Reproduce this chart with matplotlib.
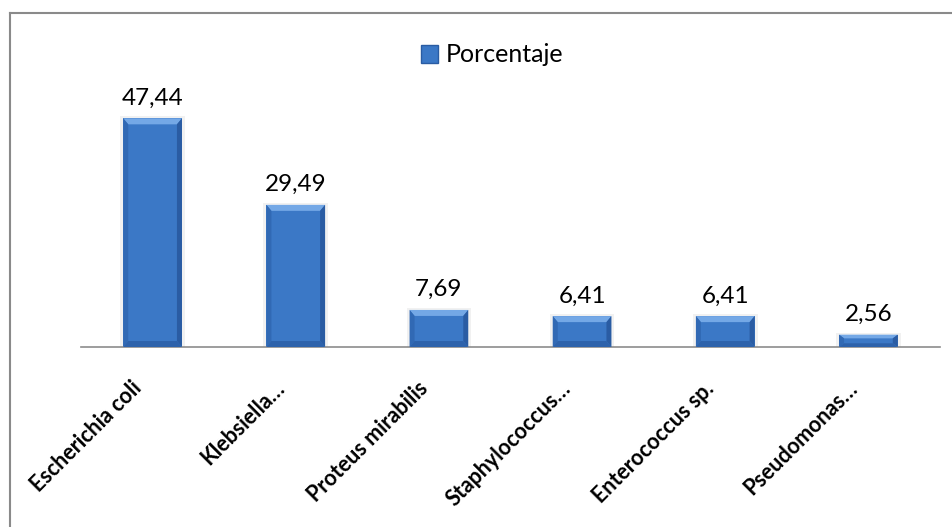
import numpy as np
import matplotlib.pyplot as plt
import matplotlib.transforms as mtransforms
from matplotlib.patches import Polygon, Rectangle
from matplotlib.lines import Line2D

plt.rcParams['font.family'] = ['Lato', 'DejaVu Sans']

categories = ['Escherichia coli', 'Klebsiella…', 'Proteus mirabilis',
              'Staphylococcus…', 'Enterococcus sp.', 'Pseudomonas…']
porcentaje = [47.44, 29.49, 7.69, 6.41, 6.41, 2.56]
labels = ['47,44', '29,49', '7,69', '6,41', '6,41', '2,56']

fig = plt.figure(figsize=(9.52, 5.27), dpi=100)
ax = fig.add_axes([81 / 952, 180 / 527, 859 / 952, 241 / 527])

x = np.arange(len(categories))
bars = ax.bar(x, porcentaje, width=0.41, color='#3b78c6', edgecolor='none', zorder=2)

ax.set_xlim(-0.5, len(categories) - 0.5)
ax.set_ylim(0, 50)

# beveled look: soft shadow, light top edge, darker sides
px = (ax.get_xlim()[1] - ax.get_xlim()[0]) / 859
py = 50 / 241
for b in bars:
    x0, y0 = b.get_x(), b.get_y()
    w, h = b.get_width(), b.get_height()
    bev_x, bev_y = 5 * px, min(6 * py, h * 0.3)
    ax.add_patch(Rectangle((x0 - 3 * px, y0), w + 6 * px, h + 2 * py,
                           color='#d8d8d8', alpha=0.35, lw=0, zorder=1))
    ax.add_patch(Polygon([(x0, y0 + h), (x0 + w, y0 + h), (x0 + w - bev_x, y0 + h - bev_y),
                          (x0 + bev_x, y0 + h - bev_y)], color='#74a8e6', lw=0, zorder=3))
    ax.add_patch(Polygon([(x0, y0), (x0, y0 + h), (x0 + bev_x, y0 + h - bev_y),
                          (x0 + bev_x, y0 + bev_y)], color='#3169b4', lw=0, zorder=3))
    ax.add_patch(Polygon([(x0 + w, y0), (x0 + w, y0 + h), (x0 + w - bev_x, y0 + h - bev_y),
                          (x0 + w - bev_x, y0 + bev_y)], color='#2a5ca3', lw=0, zorder=3))
    ax.add_patch(Polygon([(x0, y0), (x0 + w, y0), (x0 + w - bev_x, y0 + bev_y),
                          (x0 + bev_x, y0 + bev_y)], color='#2d62ab', lw=0, zorder=3))

for xi, v, lab in zip(x, porcentaje, labels):
    ax.annotate(lab, (xi, v), xytext=(0, 7), textcoords='offset points',
                ha='center', va='bottom', fontsize=17.5, color='black')

for s in ['left', 'right', 'top']:
    ax.spines[s].set_visible(False)
ax.spines['bottom'].set_color('#8c8c8c')
ax.spines['bottom'].set_linewidth(1.2)
ax.set_yticks([])
ax.set_xticks(x)
ax.set_xticklabels(categories, rotation=45, ha='right', va='top',
                   fontsize=15.5, fontweight='bold')
ax.tick_params(axis='x', length=0, pad=22)
shift = mtransforms.ScaledTranslation(-7 / 100, 0, fig.dpi_scale_trans)
for t in ax.get_xticklabels():
    t.set_transform(t.get_transform() + shift)

leg = fig.legend(handles=[Rectangle((0, 0), 1, 1, facecolor='#3b78c6', edgecolor='#2a5ca3')],
                 labels=['Porcentaje'], loc='center', bbox_to_anchor=(492 / 952, 1 - 55 / 527),
                 frameon=False, fontsize=18, handlelength=0.7, handleheight=0.7,
                 handletextpad=0.3)

# chart area border
fig.add_artist(Line2D([10 / 952, 10 / 952], [0, 1 - 13 / 527], color='#8a8a8a', lw=1.5))
fig.add_artist(Line2D([10 / 952, 1], [1 - 13 / 527, 1 - 13 / 527], color='#8a8a8a', lw=1.5))

fig.savefig('out.png', dpi=100)
